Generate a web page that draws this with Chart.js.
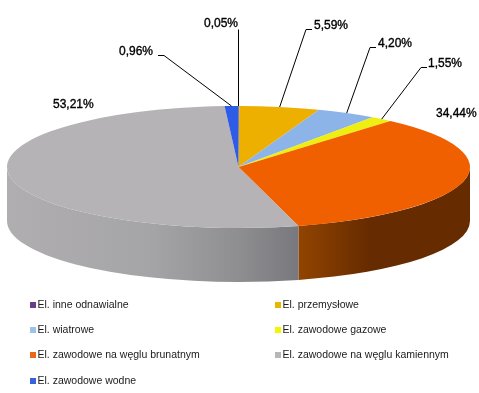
<!DOCTYPE html>
<html><head><meta charset="utf-8">
<style>html,body{margin:0;padding:0;background:#fff}canvas{display:block}</style>
<script src="https://cdn.jsdelivr.net/npm/chart.js@4"></script>
</head><body><canvas id="c" width="479" height="393"></canvas>
<script>
const categories = ['El. inne odnawialne','El. przemysłowe','El. wiatrowe','El. zawodowe gazowe','El. zawodowe na węglu brunatnym','El. zawodowe na węglu kamiennym','El. zawodowe wodne'];
const shares = [0.05,5.59,4.20,1.55,34.44,53.21,0.96];
const topColors = ['#6A3D8A','#EEB000','#8DB4E8','#EEEE11','#F06000','#B5B3B5','#2E5CE6'];
const legendColors = ['#6A3D8A','#E8B800','#9DC3E6','#F5F500','#E8681A','#B8B6B8','#3A62D8'];

const disc = {cx:238.5, cy:167, rx:231.5, ry:61, depth:54};
const wallStops = {
  4: [[298,'#924400'],[370,'#662B00'],[470,'#662C00']],
  5: [[7,'#B0AEB0'],[150,'#A5A4A6'],[240,'#8E8D8F'],[298,'#78787E']]
};
const labelLayout = [
  {x:204,y:27,line:[[238.5,29]],vertical:true},
  {x:314,y:29,line:[[312,29],[306,29]]},
  {x:378,y:47,line:[[376,47],[370,47]]},
  {x:428,y:67,line:[[427,67],[421,67]]},
  {x:436,y:117},
  {x:53,y:108},
  {x:119,y:55,line:[[158,55],[164,55]]}
];
const legendLayout = [[30,305],[275,305],[30,330],[275,330],[30,355],[275,355],[30,381]];

const fmt = v => v.toFixed(2).replace('.',',') + '%';

const pie3d = {
  id:'pie3d',
  beforeDatasetDraw(chart){
    const ctx = chart.ctx, arcs = chart.getDatasetMeta(0).data, d = disc;
    ctx.save();
    arcs.forEach((arc,i)=>{
      const a = Math.max(arc.startAngle,0), b = Math.min(arc.endAngle,Math.PI);
      if (b <= a) return;
      const x0 = d.cx + d.rx*Math.cos(a), x1 = d.cx + d.rx*Math.cos(b);
      let fill = topColors[i];
      const stops = wallStops[i];
      if (stops){
        const g = ctx.createLinearGradient(stops[0][0],0,stops[stops.length-1][0],0);
        const span = stops[stops.length-1][0]-stops[0][0];
        stops.forEach(s=>g.addColorStop((s[0]-stops[0][0])/span,s[1]));
        fill = g;
      }
      ctx.beginPath();
      ctx.ellipse(d.cx,d.cy,d.rx,d.ry,0,a,b,false);
      ctx.lineTo(x1,d.cy+d.ry*Math.sin(b)+d.depth);
      ctx.ellipse(d.cx,d.cy+d.depth,d.rx,d.ry,0,b,a,true);
      ctx.lineTo(x0,d.cy+d.ry*Math.sin(a));
      ctx.closePath();
      ctx.fillStyle = fill;
      ctx.fill();
    });
    ctx.restore();
    const a0 = arcs[0];
    ctx.save();
    ctx.translate(d.cx,d.cy);
    ctx.scale(d.rx/a0.outerRadius,d.ry/a0.outerRadius);
    ctx.translate(-a0.x,-a0.y);
  },
  afterDatasetDraw(chart){
    chart.ctx.restore();
  },
  afterDraw(chart){
    const ctx = chart.ctx, arcs = chart.getDatasetMeta(0).data, d = disc;
    ctx.save();
    // leader lines and value labels
    ctx.strokeStyle = '#000'; ctx.lineWidth = 1;
    arcs.forEach((arc,i)=>{
      const L = labelLayout[i];
      if (L.line){
        const m = (arc.startAngle+arc.endAngle)/2;
        const ex = L.vertical ? L.line[0][0] : d.cx+d.rx*Math.cos(m);
        ctx.beginPath();
        L.line.forEach((p,k)=> k ? ctx.lineTo(p[0],p[1]+.5) : ctx.moveTo(p[0],p[1]+.5));
        ctx.lineTo(ex, d.cy+d.ry*Math.sin(m));
        ctx.stroke();
      }
    });
    ctx.fillStyle = '#000';
    ctx.strokeStyle = '#000';
    ctx.lineWidth = 0.35;
    ctx.font = '12px "Liberation Sans"';
    ctx.textAlign = 'left'; ctx.textBaseline = 'alphabetic';
    shares.forEach((v,i)=>{
      ctx.fillText(fmt(v),labelLayout[i].x,labelLayout[i].y);
      ctx.strokeText(fmt(v),labelLayout[i].x,labelLayout[i].y);
    });
    // legend
    ctx.font = '10.5px "Liberation Sans"';
    ctx.textBaseline = 'middle';
    categories.forEach((c,i)=>{
      const [x,y] = legendLayout[i];
      ctx.fillStyle = legendColors[i];
      ctx.fillRect(x,y-3,6,6);
      ctx.fillStyle = '#1a1a1a';
      ctx.fillText(c,x+7.5,y+0.5);
    });
    ctx.restore();
  }
};

new Chart(document.getElementById('c'),{
  type:'pie',
  data:{labels:categories,datasets:[{data:shares,backgroundColor:topColors,borderWidth:0,clip:false}]},
  options:{
    responsive:false,animation:false,
    plugins:{legend:{display:false},tooltip:{enabled:false}}
  },
  plugins:[pie3d]
});
</script></body></html>
